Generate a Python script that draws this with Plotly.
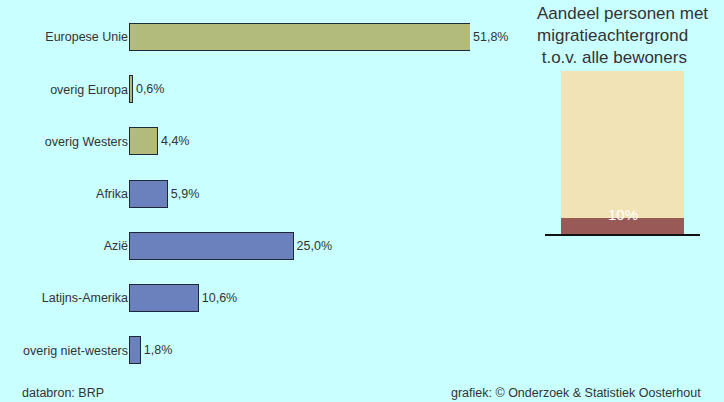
import plotly.graph_objects as go

W, H = 724, 402

categories = ["Europese Unie", "overig Europa", "overig Westers", "Afrika", "Azië",
              "Latijns-Amerika", "overig niet-westers"]
values = [51.8, 0.6, 4.4, 5.9, 25.0, 10.6, 1.8]
groups = ["west", "west", "west", "nonwest", "nonwest", "nonwest", "nonwest"]

share_label = "Aandeel"
share_migr = 10
share_rest = 90

group_colors = {"west": "#b2ba7c", "nonwest": "#6b81bd"}
value_text = [f"{v:.1f}%".replace(".", ",") for v in values]
FONT = "Liberation Sans, Arial"

fig = go.Figure()

fig.add_trace(go.Bar(
    y=categories, x=values, orientation="h",
    marker=dict(color=[group_colors[g] for g in groups],
                line=dict(color="#1e2838", width=1)),
    width=0.52,
    text=value_text, textposition="outside", cliponaxis=False,
    textfont=dict(size=12.5, color="#333333", family=FONT),
    xaxis="x", yaxis="y", showlegend=False, hoverinfo="skip",
))

fig.add_trace(go.Bar(
    x=[share_label], y=[share_migr], marker=dict(color="#985a57", line=dict(width=0)),
    width=0.7935, xaxis="x2", yaxis="y2", showlegend=False, hoverinfo="skip",
))
fig.add_trace(go.Bar(
    x=[share_label], y=[share_rest], marker=dict(color="#f2e3b6", line=dict(width=0)),
    width=0.7935, xaxis="x2", yaxis="y2", showlegend=False, hoverinfo="skip",
))

fig.add_annotation(
    x=share_label, y=share_migr, xref="x2", yref="y2",
    text=f"{share_migr}%", showarrow=False, yanchor="middle", yshift=3,
    font=dict(size=15, color="#ffffff", family=FONT),
)

fig.add_annotation(
    x=535 / W, y=1 - 2 / H, xref="paper", yref="paper",
    xanchor="left", yanchor="top", align="left", showarrow=False,
    text="Aandeel personen met<br>migratieachtergrond<br>\u00a0t.o.v. alle bewoners",
    font=dict(size=17, color="#333333", family=FONT),
)

fig.add_annotation(
    x=20 / W, y=1 - 393 / H, xref="paper", yref="paper",
    xanchor="left", yanchor="middle", showarrow=False, text="databron: BRP",
    font=dict(size=12.5, color="#333333", family=FONT),
)
fig.add_annotation(
    x=703 / W, y=1 - 393 / H, xref="paper", yref="paper",
    xanchor="right", yanchor="middle", showarrow=False,
    text="grafiek: © Onderzoek & Statistiek Oosterhout",
    font=dict(size=12.5, color="#333333", family=FONT),
)

fig.update_layout(
    width=W, height=H,
    margin=dict(l=0, r=0, t=0, b=0),
    paper_bgcolor="#c9ffff", plot_bgcolor="rgba(0,0,0,0)",
    barmode="stack",
    font=dict(family=FONT, color="#333333", size=12.5),
    xaxis=dict(domain=[129 / W, 470 / W], range=[0, 51.8], visible=False, fixedrange=True),
    yaxis=dict(domain=[1 - 376.3 / H, 1 - 10.9 / H], type="category",
               categoryorder="array", categoryarray=categories,
               range=[6.5, -0.5], showgrid=False, zeroline=False, showline=False,
               ticks="", ticklabelstandoff=0,
               tickfont=dict(size=12.5, color="#333333")),
    xaxis2=dict(domain=[545 / W, 700 / W], range=[-0.5, 0.5], anchor="y2",
                showticklabels=False, ticks="", showgrid=False, zeroline=False,
                showline=True, linecolor="#111111", linewidth=1.5),
    yaxis2=dict(domain=[1 - 234 / H, 1 - 71 / H], range=[0, 100], anchor="x2",
                visible=False),
)

fig.write_html("out.html", config={"displayModeBar": False, "staticPlot": True},
               post_script="document.body.style.margin='0';document.body.style.background='#c9ffff';")
